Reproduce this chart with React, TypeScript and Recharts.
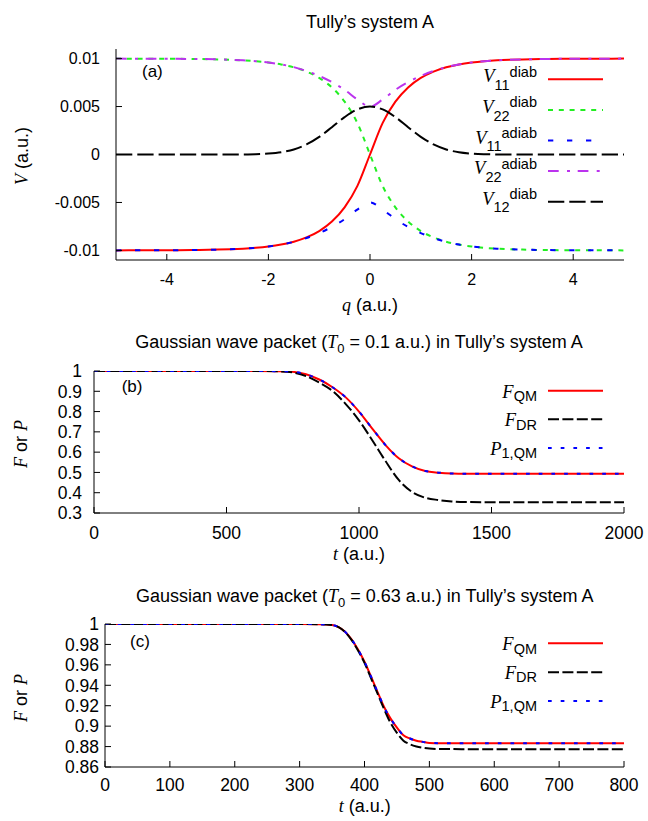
import React from 'react';
import { LineChart, Line, XAxis, YAxis, Legend } from 'recharts';

const SANS = '"Liberation Sans", Arial, Helvetica, sans-serif';
const SERIF = '"Liberation Serif", "Times New Roman", Times, serif';
const TICK_LEN = 6;

// ---------- Panel (a): Tully's system A potentials ----------
const qValues = [-5, -4.5, -4, -3.5, -3, -2.75, -2.5, -2.25, -2, -1.75, -1.5, -1.25, -1, -0.75, -0.5, -0.25, 0, 0.25, 0.5, 0.75, 1, 1.25, 1.5, 1.75, 2, 2.25, 2.5, 2.75, 3, 3.5, 4, 4.5, 5];
const v11Diab = [-0.009997, -0.009993, -0.009983, -0.009963, -0.009918, -0.009877, -0.009817, -0.009727, -0.009592, -0.009392, -0.009093, -0.008647, -0.007981, -0.006988, -0.005507, -0.003297, 0, 0.003297, 0.005507, 0.006988, 0.007981, 0.008647, 0.009093, 0.009392, 0.009592, 0.009727, 0.009817, 0.009877, 0.009918, 0.009963, 0.009983, 0.009993, 0.009997];
const v22Diab = [0.009997, 0.009993, 0.009983, 0.009963, 0.009918, 0.009877, 0.009817, 0.009727, 0.009592, 0.009392, 0.009093, 0.008647, 0.007981, 0.006988, 0.005507, 0.003297, 0, -0.003297, -0.005507, -0.006988, -0.007981, -0.008647, -0.009093, -0.009392, -0.009592, -0.009727, -0.009817, -0.009877, -0.009918, -0.009963, -0.009983, -0.009993, -0.009997];
const v11Adiab = [-0.009997, -0.009993, -0.009983, -0.009963, -0.009918, -0.009877, -0.009817, -0.009727, -0.009592, -0.009395, -0.009108, -0.00871, -0.00819, -0.007547, -0.006745, -0.005739, -0.005, -0.005739, -0.006745, -0.007547, -0.00819, -0.00871, -0.009108, -0.009395, -0.009592, -0.009727, -0.009817, -0.009877, -0.009918, -0.009963, -0.009983, -0.009993, -0.009997];
const v22Adiab = [0.009997, 0.009993, 0.009983, 0.009963, 0.009918, 0.009877, 0.009817, 0.009727, 0.009592, 0.009395, 0.009108, 0.00871, 0.00819, 0.007547, 0.006745, 0.005739, 0.005, 0.005739, 0.006745, 0.007547, 0.00819, 0.00871, 0.009108, 0.009395, 0.009592, 0.009727, 0.009817, 0.009877, 0.009918, 0.009963, 0.009983, 0.009993, 0.009997];
const v12Diab = [0, 0, 0, 0, 0, 0.0000026, 0.0000097, 0.0000317, 0.0000916, 0.000234, 0.000527, 0.001048, 0.001839, 0.002849, 0.003894, 0.004697, 0.005, 0.004697, 0.003894, 0.002849, 0.001839, 0.001048, 0.000527, 0.000234, 0.0000916, 0.0000317, 0.0000097, 0.0000026, 0, 0, 0, 0, 0];
const qTicks = [-4, -2, 0, 2, 4];
const vTicks = [-0.01, -0.005, 0, 0.005, 0.01];

// ---------- Panel (b): T0 = 0.1 a.u. ----------
const tValuesB = [0, 500, 600, 700, 750, 800, 850, 900, 950, 1000, 1050, 1100, 1150, 1200, 1250, 1300, 1350, 1400, 1500, 1600, 1800, 2000];
const fQmB = [1, 1, 1, 0.999, 0.996, 0.984, 0.958, 0.92, 0.87, 0.8, 0.716, 0.635, 0.57, 0.53, 0.507, 0.499, 0.495, 0.494, 0.494, 0.494, 0.494, 0.494];
const fDrB = [1, 1, 1, 0.998, 0.993, 0.975, 0.943, 0.902, 0.837, 0.757, 0.659, 0.556, 0.463, 0.404, 0.375, 0.364, 0.357, 0.354, 0.353, 0.353, 0.353, 0.353];
const p1QmB = [1, 1, 1, 0.999, 0.996, 0.984, 0.958, 0.92, 0.87, 0.8, 0.716, 0.635, 0.57, 0.53, 0.507, 0.499, 0.495, 0.494, 0.494, 0.494, 0.494, 0.494];
const tTicksB = [0, 500, 1000, 1500, 2000];
const yTicksB = [0.3, 0.4, 0.5, 0.6, 0.7, 0.8, 0.9, 1];

// ---------- Panel (c): T0 = 0.63 a.u. ----------
const tValuesC = [0, 300, 330, 350, 360, 370, 380, 390, 400, 410, 420, 430, 440, 450, 460, 470, 480, 490, 500, 520, 550, 600, 700, 800];
const fQmC = [1, 1, 0.9998, 0.999, 0.997, 0.9924, 0.985, 0.975, 0.963, 0.9486, 0.9336, 0.919, 0.9076, 0.8985, 0.891, 0.8879, 0.8857, 0.8846, 0.8836, 0.8833, 0.8832, 0.8832, 0.8832, 0.8832];
const fDrC = [1, 1, 0.9998, 0.999, 0.997, 0.9922, 0.9845, 0.974, 0.962, 0.947, 0.932, 0.917, 0.9034, 0.8934, 0.8858, 0.8823, 0.8801, 0.8788, 0.878, 0.8776, 0.8775, 0.8775, 0.8775, 0.8775];
const p1QmC = [1, 1, 0.9998, 0.999, 0.997, 0.9924, 0.985, 0.975, 0.963, 0.9486, 0.9336, 0.919, 0.9076, 0.8985, 0.891, 0.8879, 0.8857, 0.8846, 0.8836, 0.8833, 0.8832, 0.8832, 0.8832, 0.8832];
const tTicksC = [0, 100, 200, 300, 400, 500, 600, 700, 800];
const yTicksC = [0.86, 0.88, 0.9, 0.92, 0.94, 0.96, 0.98, 1];

type SeriesDef = {
  key: string;
  values: number[];
  color: string;
  dash?: string;
  base: string;
  sub: string;
  sup?: string;
};

const seriesA: SeriesDef[] = [
  { key: 'v11d', values: v11Diab, color: '#ff0000', base: 'V', sub: '11', sup: 'diab' },
  { key: 'v22d', values: v22Diab, color: '#22ee22', dash: '5 5.8', base: 'V', sub: '22', sup: 'diab' },
  { key: 'v11a', values: v11Adiab, color: '#0000ff', dash: '5.3 13.7', base: 'V', sub: '11', sup: 'adiab' },
  { key: 'v22a', values: v22Adiab, color: '#bb33ee', dash: '10.7 8.3 3 7.7', base: 'V', sub: '22', sup: 'adiab' },
  { key: 'v12d', values: v12Diab, color: '#000000', dash: '16.3 5', base: 'V', sub: '12', sup: 'diab' },
];

const seriesB: SeriesDef[] = [
  { key: 'fqm', values: fQmB, color: '#ff0000', base: 'F', sub: 'QM' },
  { key: 'fdr', values: fDrB, color: '#000000', dash: '11 3.4', base: 'F', sub: 'DR' },
  { key: 'p1', values: p1QmB, color: '#0000ff', dash: '3.7 9', base: 'P', sub: '1,QM' },
];

const seriesC: SeriesDef[] = [
  { key: 'fqm', values: fQmC, color: '#ff0000', base: 'F', sub: 'QM' },
  { key: 'fdr', values: fDrC, color: '#000000', dash: '11 3.4', base: 'F', sub: 'DR' },
  { key: 'p1', values: p1QmC, color: '#0000ff', dash: '3.7 9', base: 'P', sub: '1,QM' },
];

function buildRows(xKey: string, xs: number[], series: SeriesDef[]) {
  return xs.map((x, i) => {
    const row: Record<string, number> = { [xKey]: x };
    series.forEach((s) => {
      row[s.key] = s.values[i];
    });
    return row;
  });
}

type PanelProps = {
  chartTop: number;
  height: number;
  marginTop: number;
  yAxisWidth: number;
  xAxisHeight: number;
  xKey: string;
  xs: number[];
  series: SeriesDef[];
  xDomain: [number, number];
  xTicks: number[];
  yDomain: [number, number];
  yTicks: number[];
  yTickGap: number;
  xTickBaseline: number;
  tickFont: number;
  legendFirstY: number;
  legendStep: number;
  baseDy: number;
  subDy: number;
  supDy: number;
};

function Panel(p: PanelProps) {
  const data = buildRows(p.xKey, p.xs, p.series);
  const axisLine = { stroke: '#000', strokeWidth: 1 };

  const leftTick = (t: any) => (
    <g>
      <line x1={t.x + p.yTickGap} x2={t.x + p.yTickGap + TICK_LEN} y1={t.y} y2={t.y} stroke="#000" strokeWidth={1} />
      <text x={t.x} y={t.y} dy="0.36em" textAnchor="end" fontFamily={SANS} fontSize={p.tickFont} fill="#000">
        {String(t.payload.value)}
      </text>
    </g>
  );
  const bottomTick = (t: any) => (
    <g>
      <line x1={t.x} x2={t.x} y1={t.y - p.xTickBaseline} y2={t.y - p.xTickBaseline - TICK_LEN} stroke="#000" strokeWidth={1} />
      <text x={t.x} y={t.y} textAnchor="middle" fontFamily={SANS} fontSize={p.tickFont} fill="#000">
        {String(t.payload.value)}
      </text>
    </g>
  );
  const topTick = (t: any) => (
    <line x1={t.x} x2={t.x} y1={t.y} y2={t.y + TICK_LEN} stroke="#000" strokeWidth={1} />
  );
  const rightTick = (t: any) => (
    <line x1={t.x} x2={t.x - TICK_LEN} y1={t.y} y2={t.y} stroke="#000" strokeWidth={1} />
  );

  const legendContent = () => (
    <svg width={648} height={p.height} style={{ display: 'block', overflow: 'visible' }}>
      {p.series.map((s, i) => {
        const y = p.legendFirstY + i * p.legendStep;
        return (
          <g key={s.key}>
            <text x={537} y={y + p.baseDy} textAnchor="end" fill="#000">
              <tspan fontFamily={SERIF} fontStyle="italic" fontSize={18.5}>{s.base}</tspan>
              <tspan fontFamily={SANS} fontSize={14.5} dy={p.subDy - p.baseDy}>{s.sub}</tspan>
              {s.sup ? (
                <tspan fontFamily={SANS} fontSize={14.5} dy={p.supDy - p.subDy}>{s.sup}</tspan>
              ) : null}
            </text>
            <line x1={548} x2={603} y1={y} y2={y} stroke={s.color} strokeWidth={2} strokeDasharray={s.dash} />
          </g>
        );
      })}
    </svg>
  );

  return (
    <div style={{ position: 'absolute', left: 0, top: p.chartTop, width: 648, height: p.height }}>
      <LineChart width={648} height={p.height} data={data} margin={{ top: p.marginTop, right: 24, bottom: 0, left: 0 }}>
        <XAxis
          dataKey={p.xKey}
          type="number"
          domain={p.xDomain}
          ticks={p.xTicks}
          interval={0}
          allowDataOverflow
          height={p.xAxisHeight}
          tickSize={0}
          tickMargin={p.xTickBaseline}
          tick={bottomTick}
          tickLine={false}
          axisLine={axisLine}
        />
        <XAxis
          xAxisId="top"
          orientation="top"
          type="number"
          domain={p.xDomain}
          ticks={p.xTicks}
          interval={0}
          allowDataOverflow
          height={0}
          tickSize={0}
          tickMargin={0}
          tick={topTick}
          tickLine={false}
          axisLine={axisLine}
        />
        <YAxis
          type="number"
          domain={p.yDomain}
          ticks={p.yTicks}
          interval={0}
          allowDataOverflow
          width={p.yAxisWidth}
          tickSize={0}
          tickMargin={p.yTickGap}
          tick={leftTick}
          tickLine={false}
          axisLine={axisLine}
        />
        <YAxis
          yAxisId="right"
          orientation="right"
          type="number"
          domain={p.yDomain}
          ticks={p.yTicks}
          interval={0}
          allowDataOverflow
          width={0}
          tickSize={0}
          tickMargin={0}
          tick={rightTick}
          tickLine={false}
          axisLine={axisLine}
        />
        {p.series.map((s) => (
          <Line
            key={s.key}
            type="monotone"
            dataKey={s.key}
            stroke={s.color}
            strokeWidth={2}
            strokeDasharray={s.dash}
            dot={false}
            activeDot={false}
            isAnimationActive={false}
          />
        ))}
        <Legend
          layout="horizontal"
          verticalAlign="middle"
          align="center"
          content={legendContent}
          wrapperStyle={{ position: 'absolute', left: 0, top: 0, width: 648, height: p.height, pointerEvents: 'none' }}
        />
      </LineChart>
    </div>
  );
}

function Overlay() {
  const t = { fontFamily: SANS, fill: '#000' };
  const it = { fontFamily: SERIF, fontStyle: 'italic' as const };
  return (
    <svg width={648} height={821} style={{ position: 'absolute', left: 0, top: 0, pointerEvents: 'none' }}>
      {/* Panel (a) */}
      <text x={370} y={28} textAnchor="middle" fontSize={18} {...t}>Tully’s system A</text>
      <text x={370} y={311} textAnchor="middle" fontSize={18} {...t}>
        <tspan {...it}>q</tspan>{' (a.u.)'}
      </text>
      <text transform="translate(28,156) rotate(-90)" textAnchor="middle" fontSize={18} {...t}>
        <tspan {...it}>V</tspan>{' (a.u.)'}
      </text>
      <text x={142} y={76.5} fontSize={17} {...t}>(a)</text>

      {/* Panel (b) */}
      <text x={359} y={348.3} textAnchor="middle" fontSize={18} {...t}>
        {'Gaussian wave packet ('}
        <tspan {...it}>T</tspan>
        <tspan fontSize={13} dy={5}>0</tspan>
        <tspan dy={-5}>{' = 0.1 a.u.) in Tully’s system A'}</tspan>
      </text>
      <text x={359} y={560} textAnchor="middle" fontSize={18} {...t}>
        <tspan {...it}>t</tspan>{' (a.u.)'}
      </text>
      <text transform="translate(27,444) rotate(-90)" textAnchor="middle" fontSize={18} {...t}>
        <tspan {...it}>F</tspan>{' or '}<tspan {...it}>P</tspan>
      </text>
      <text x={121.7} y={391.5} fontSize={17} {...t}>(b)</text>

      {/* Panel (c) */}
      <text x={364.7} y={601.7} textAnchor="middle" fontSize={18} {...t}>
        {'Gaussian wave packet ('}
        <tspan {...it}>T</tspan>
        <tspan fontSize={13} dy={5}>0</tspan>
        <tspan dy={-5}>{' = 0.63 a.u.) in Tully’s system A'}</tspan>
      </text>
      <text x={364.7} y={812} textAnchor="middle" fontSize={18} {...t}>
        <tspan {...it}>t</tspan>{' (a.u.)'}
      </text>
      <text transform="translate(27,698) rotate(-90)" textAnchor="middle" fontSize={18} {...t}>
        <tspan {...it}>F</tspan>{' or '}<tspan {...it}>P</tspan>
      </text>
      <text x={130} y={646.5} fontSize={17} {...t}>(c)</text>
    </svg>
  );
}

export default function App() {
  return (
    <div style={{ position: 'absolute', left: 0, top: 0, width: 648, height: 821, background: '#fff', overflow: 'hidden' }}>
      <Panel
        chartTop={0}
        height={300}
        marginTop={49}
        yAxisWidth={116}
        xAxisHeight={40}
        xKey="q"
        xs={qValues}
        series={seriesA}
        xDomain={[-5, 5]}
        xTicks={qTicks}
        yDomain={[-0.011, 0.011]}
        yTicks={vTicks}
        yTickGap={16}
        xTickBaseline={25}
        tickFont={16}
        legendFirstY={79.3}
        legendStep={30.6}
        baseDy={3}
        subDy={10.7}
        supDy={-2.6}
      />
      <Panel
        chartTop={300}
        height={260}
        marginTop={71}
        yAxisWidth={94}
        xAxisHeight={47}
        xKey="t"
        xs={tValuesB}
        series={seriesB}
        xDomain={[0, 2000]}
        xTicks={tTicksB}
        yDomain={[0.3, 1]}
        yTicks={yTicksB}
        yTickGap={12}
        xTickBaseline={26}
        tickFont={17.5}
        legendFirstY={90.7}
        legendStep={28.65}
        baseDy={7}
        subDy={10.3}
        supDy={0}
      />
      <Panel
        chartTop={570}
        height={251}
        marginTop={54}
        yAxisWidth={105}
        xAxisHeight={54}
        xKey="t"
        xs={tValuesC}
        series={seriesC}
        xDomain={[0, 800]}
        xTicks={tTicksC}
        yDomain={[0.86, 1]}
        yTicks={yTicksC}
        yTickGap={6}
        xTickBaseline={24}
        tickFont={17.5}
        legendFirstY={73.3}
        legendStep={28.85}
        baseDy={7}
        subDy={10.3}
        supDy={0}
      />
      <Overlay />
    </div>
  );
}
